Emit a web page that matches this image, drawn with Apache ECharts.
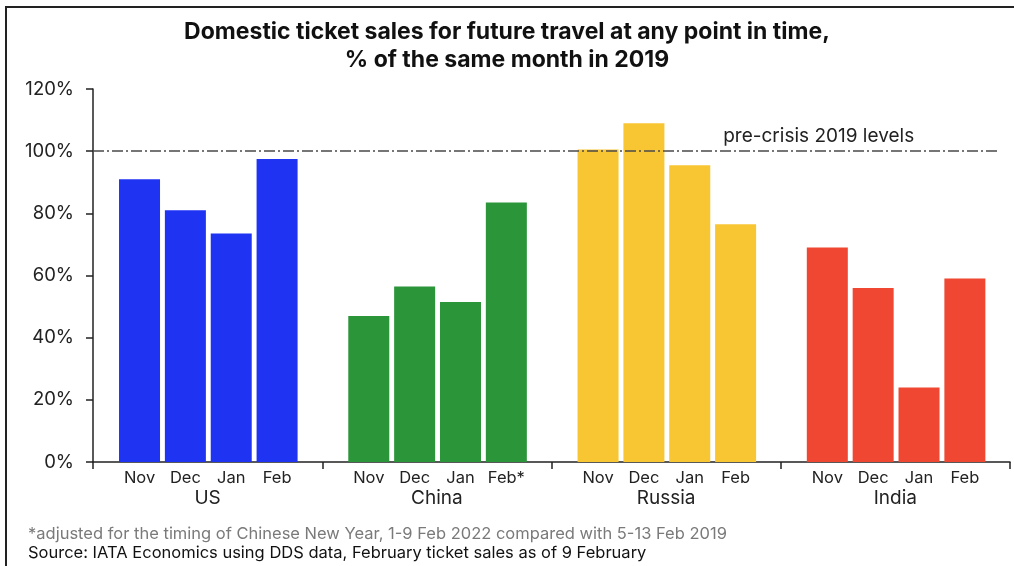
<!DOCTYPE html>
<html>
<head>
<meta charset="utf-8">
<script src="https://cdn.jsdelivr.net/npm/echarts@6/dist/echarts.min.js"></script>
<style>
html,body{margin:0;padding:0;background:#fff;}
#wrap{position:relative;width:1014px;height:566px;}
#chart{position:absolute;left:0;top:0;width:1014px;height:566px;}
#frame{position:absolute;left:5px;top:6px;width:1009px;height:560px;border-top:2px solid #222;border-left:2px solid #222;box-sizing:border-box;pointer-events:none;}
</style>
</head>
<body>
<div id="wrap"><div id="chart"></div><div id="frame"></div></div>
<script>
const countries = ['US', 'China', 'Russia', 'India'];
const months = [
  ['Nov', 'Dec', 'Jan', 'Feb'],
  ['Nov', 'Dec', 'Jan', 'Feb*'],
  ['Nov', 'Dec', 'Jan', 'Feb'],
  ['Nov', 'Dec', 'Jan', 'Feb']
];
const usValues = [91, 81, 73.5, 97.5];
const chinaValues = [47, 56.5, 51.5, 83.5];
const russiaValues = [100.5, 109, 95.5, 76.5];
const indiaValues = [69, 56, 24, 59];
const colors = ['#1f33f3', '#2b9539', '#f8c632', '#ef4731'];
const yTicks = [0, 20, 40, 60, 80, 100, 120];
const preCrisisLevel = 100;
const preCrisisLabel = 'pre-crisis 2019 levels';
const titleText = 'Domestic ticket sales for future travel at any point in time,\n% of the same month in 2019';
const footnote = '*adjusted for the timing of Chinese New Year, 1-9 Feb 2022 compared with 5-13 Feb 2019';
const sourceText = 'Source: IATA Economics using DDS data, February ticket sales as of 9 February';

const allValues = [usValues, chinaValues, russiaValues, indiaValues];
// slot categories: 4 bars per group + one blank slot between groups
const slotCats = [];
const series = [];
allValues.forEach((vals, g) => {
  months[g].forEach((m) => { slotCats.push(m); });
  if (g < allValues.length - 1) slotCats.push('');
});
allValues.forEach((vals, g) => {
  const data = new Array(slotCats.length).fill(null);
  vals.forEach((v, i) => { data[g * 5 + i] = v; });
  series.push({
    type: 'bar', xAxisIndex: 1, yAxisIndex: 1, data: data,
    barWidth: 41, barGap: '-100%',
    itemStyle: { color: colors[g] }, silent: true
  });
});
series.push({
  type: 'line', xAxisIndex: 2, yAxisIndex: 0, data: [], silent: true,
  markLine: {
    symbol: 'none', silent: true,
    lineStyle: { color: '#4a4a4a', width: 1.5, type: [11, 3, 2, 3] },
    label: {
      show: true, position: 'insideEndTop', formatter: preCrisisLabel,
      color: '#222', fontSize: 19, fontFamily: 'Inter', distance: 5,
      padding: [0, 78, 0, 0]
    },
    data: [[{ coord: [0, preCrisisLevel] }, { coord: [0.986, preCrisisLevel] }]]
  }
});

const grid = { top: 89, bottom: 104 };
const chart = echarts.init(document.getElementById('chart'), null, { renderer: 'canvas' });
chart.setOption({
  animation: false,
  backgroundColor: '#fff',
  title: [
    { text: titleText, left: 'center', top: 13,
      textStyle: { fontFamily: 'Inter', fontWeight: 'bold', fontSize: 23, color: '#111', lineHeight: 28 } },
    { text: footnote, left: 23, top: 521,
      textStyle: { fontFamily: 'Inter', fontWeight: 'normal', fontSize: 16.5, color: '#7a7a7a' } },
    { text: sourceText, left: 23, top: 540,
      textStyle: { fontFamily: 'Inter', fontWeight: 'normal', fontSize: 16.5, color: '#111' } }
  ],
  grid: [
    { left: 93, right: 4, top: grid.top, bottom: grid.bottom },
    { left: 116.6, right: 26.2, top: grid.top, bottom: grid.bottom }
  ],
  xAxis: [
    { type: 'category', gridIndex: 0, data: countries,
      axisLine: { lineStyle: { color: '#222', width: 1.5 } },
      axisTick: { show: true, length: 7, lineStyle: { color: '#222', width: 1.5 } },
      axisLabel: { margin: 27, fontFamily: 'Inter', fontSize: 19, color: '#222' },
      splitLine: { show: false } },
    { type: 'category', gridIndex: 1, data: slotCats,
      axisLine: { show: false }, axisTick: { show: false },
      axisLabel: { margin: 8, fontFamily: 'Inter', fontSize: 16.5, color: '#222', interval: 0 },
      splitLine: { show: false } },
    { type: 'value', gridIndex: 0, min: 0, max: 1, show: false }
  ],
  yAxis: [
    { type: 'value', gridIndex: 0, min: yTicks[0], max: yTicks[yTicks.length - 1], interval: 20,
      axisLine: { show: true, lineStyle: { color: '#222', width: 1.5 } },
      axisTick: { show: true, length: 7, lineStyle: { color: '#222', width: 1.5 } },
      axisLabel: { formatter: '{value}%', margin: 19, fontFamily: 'Inter', fontSize: 18.5, color: '#222' },
      splitLine: { show: false } },
    { type: 'value', gridIndex: 1, min: yTicks[0], max: yTicks[yTicks.length - 1], show: false }
  ],
  series: series
});
</script>
</body>
</html>
